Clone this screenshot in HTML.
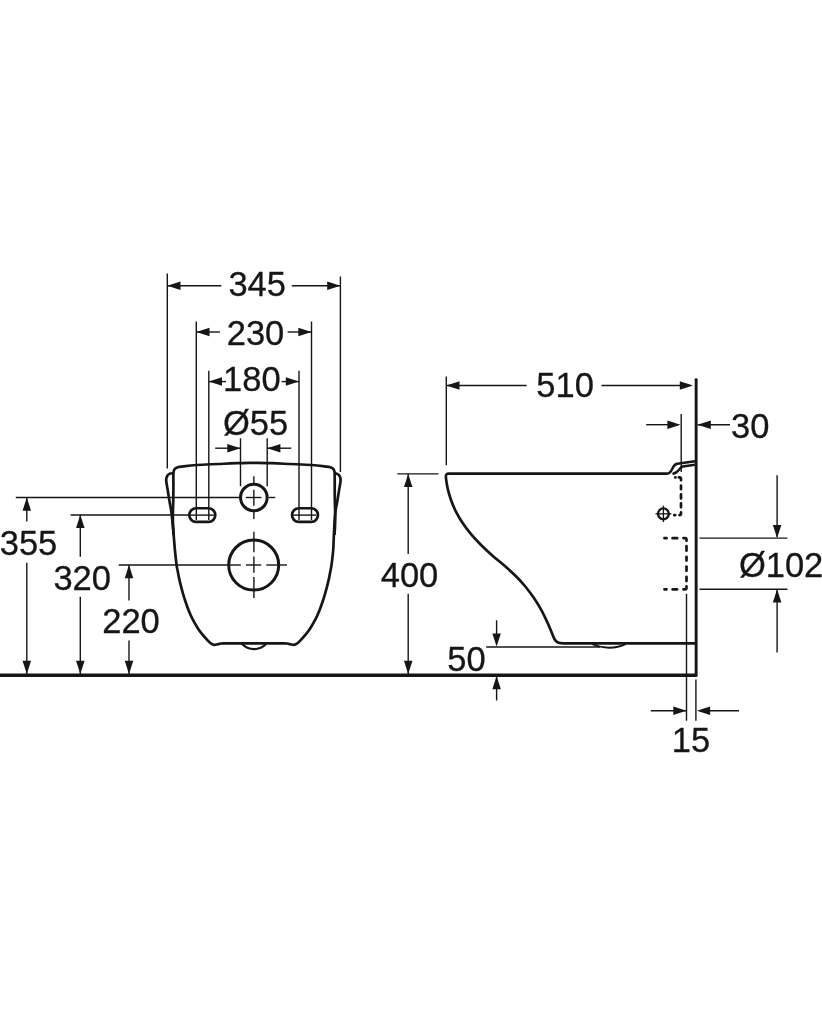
<!DOCTYPE html>
<html lang="en"><head><meta charset="utf-8"><title>Wall-hung toilet dimensions</title>
<style>
html,body{margin:0;padding:0;background:#fff;}
body{width:822px;height:1024px;overflow:hidden;}
svg{display:block;}
svg text{font-family:"Liberation Sans",Arial,Helvetica,sans-serif;}
svg{filter:grayscale(1);}
</style></head><body>
<svg width="822" height="1024" viewBox="0 0 822 1024" fill="none" stroke="#161616" stroke-linecap="butt" stroke-linejoin="round">
<rect x="0" y="0" width="822" height="1024" fill="#fff" stroke="none"/>
<line x1="167.3" y1="273.5" x2="167.3" y2="468.5" stroke-width="1.4"/>
<line x1="340.4" y1="276.5" x2="340.4" y2="472" stroke-width="1.4"/>
<line x1="167.3" y1="285.7" x2="221.3" y2="285.7" stroke-width="1.4"/>
<polygon points="167.30,285.80 180.50,281.55 180.50,290.05" fill="#161616" stroke="none"/>
<line x1="291.8" y1="285.8" x2="340.4" y2="285.8" stroke-width="1.4"/>
<polygon points="340.40,285.80 327.20,281.55 327.20,290.05" fill="#161616" stroke="none"/>
<text transform="translate(228.40,295.90) scale(1.0,1)" font-size="34.5" fill="#161616" stroke="#161616" stroke-width="0.3">345</text>
<line x1="196.3" y1="321.5" x2="196.3" y2="520" stroke-width="1.4"/>
<line x1="311.5" y1="321.5" x2="311.5" y2="520" stroke-width="1.4"/>
<line x1="196.3" y1="332.0" x2="219.9" y2="332.0" stroke-width="1.4"/>
<polygon points="196.30,332.00 209.50,327.75 209.50,336.25" fill="#161616" stroke="none"/>
<line x1="287.6" y1="332.0" x2="311.5" y2="332.0" stroke-width="1.4"/>
<polygon points="311.50,332.00 298.30,327.75 298.30,336.25" fill="#161616" stroke="none"/>
<text transform="translate(226.70,344.90) scale(1.0,1)" font-size="34.5" fill="#161616" stroke="#161616" stroke-width="0.3">230</text>
<line x1="208.8" y1="370.8" x2="208.8" y2="520" stroke-width="1.4"/>
<line x1="299" y1="370.8" x2="299" y2="520" stroke-width="1.4"/>
<line x1="208.8" y1="381.6" x2="226" y2="381.6" stroke-width="1.4"/>
<polygon points="208.80,381.60 222.00,377.35 222.00,385.85" fill="#161616" stroke="none"/>
<line x1="281.6" y1="381.6" x2="299" y2="381.6" stroke-width="1.4"/>
<polygon points="299.00,381.60 285.80,377.35 285.80,385.85" fill="#161616" stroke="none"/>
<text transform="translate(223.10,391.20) scale(1.0,1)" font-size="34.5" fill="#161616" stroke="#161616" stroke-width="0.3">180</text>
<text transform="translate(223.00,435.30) scale(1.0,1)" font-size="34.5" fill="#161616" stroke="#161616" stroke-width="0.3">Ø55</text>
<line x1="240.5" y1="438.3" x2="240.5" y2="486.2" stroke-width="1.4"/>
<line x1="267.2" y1="438.3" x2="267.2" y2="486.2" stroke-width="1.4"/>
<line x1="215.2" y1="448.2" x2="240.5" y2="448.2" stroke-width="1.4"/>
<polygon points="240.50,448.20 227.30,443.95 227.30,452.45" fill="#161616" stroke="none"/>
<line x1="267.2" y1="448.2" x2="291.3" y2="448.2" stroke-width="1.4"/>
<polygon points="267.20,448.20 280.40,443.95 280.40,452.45" fill="#161616" stroke="none"/>
<line x1="0" y1="675.2" x2="696.3" y2="675.2" stroke-width="3.4"/>
<line x1="15.8" y1="497.5" x2="240" y2="497.5" stroke-width="1.4"/>
<line x1="268.8" y1="497.5" x2="275.2" y2="497.5" stroke-width="1.4"/>
<line x1="26.8" y1="497.5" x2="26.8" y2="521.4" stroke-width="1.4"/>
<polygon points="26.80,497.50 22.55,510.70 31.05,510.70" fill="#161616" stroke="none"/>
<line x1="26.8" y1="562.7" x2="26.8" y2="674" stroke-width="1.4"/>
<polygon points="26.80,674.00 22.55,660.80 31.05,660.80" fill="#161616" stroke="none"/>
<text transform="translate(-0.30,555.30) scale(1.0,1)" font-size="34.5" fill="#161616" stroke="#161616" stroke-width="0.3">355</text>
<line x1="70.6" y1="515.0" x2="190" y2="515.0" stroke-width="1.4"/>
<line x1="80.3" y1="514.8" x2="80.3" y2="556.7" stroke-width="1.4"/>
<polygon points="80.30,514.80 76.05,528.00 84.55,528.00" fill="#161616" stroke="none"/>
<line x1="80.3" y1="596.8" x2="80.3" y2="674" stroke-width="1.4"/>
<polygon points="80.30,674.00 76.05,660.80 84.55,660.80" fill="#161616" stroke="none"/>
<text transform="translate(53.40,590.10) scale(1.0,1)" font-size="34.5" fill="#161616" stroke="#161616" stroke-width="0.3">320</text>
<line x1="118.7" y1="565.0" x2="229" y2="565.0" stroke-width="1.4"/>
<line x1="129" y1="565.0" x2="129" y2="600.4" stroke-width="1.4"/>
<polygon points="129.00,565.00 124.75,578.20 133.25,578.20" fill="#161616" stroke="none"/>
<line x1="129" y1="640.6" x2="129" y2="674" stroke-width="1.4"/>
<polygon points="129.00,674.00 124.75,660.80 133.25,660.80" fill="#161616" stroke="none"/>
<text transform="translate(102.20,633.10) scale(1.0,1)" font-size="34.5" fill="#161616" stroke="#161616" stroke-width="0.3">220</text>
<path stroke-width="2.7" d="M173.60,473.20 C173.03,473.27 171.20,473.25 170.20,473.60 C169.20,473.95 168.23,474.53 167.60,475.30 C166.97,476.07 166.62,477.17 166.40,478.20 C166.18,479.23 166.08,479.52 166.30,481.50 C166.52,483.48 167.15,486.72 167.70,490.10 C168.25,493.48 168.95,497.90 169.60,501.80 C170.25,505.70 170.95,508.30 171.60,513.50 C172.25,518.70 172.95,526.92 173.50,533.00 C174.05,539.08 174.38,544.67 174.90,550.00 C175.42,555.33 176.17,561.67 176.60,565.00 C177.03,568.33 177.10,567.85 177.50,570.00 C177.90,572.15 178.43,575.27 179.00,577.90 C179.57,580.53 180.20,583.07 180.90,585.80 C181.60,588.53 182.38,591.52 183.20,594.30 C184.02,597.08 184.90,599.83 185.80,602.50 C186.70,605.17 187.52,607.60 188.60,610.30 C189.68,613.00 190.72,615.63 192.30,618.70 C193.88,621.77 196.28,625.92 198.10,628.70 C199.92,631.48 201.53,633.37 203.20,635.40 C204.87,637.43 206.77,639.53 208.10,640.90 C209.43,642.27 210.18,642.93 211.20,643.60 C212.22,644.27 213.10,644.80 214.20,644.90 C215.30,645.00 216.68,644.43 217.80,644.20 C218.92,643.97 219.87,643.63 220.90,643.50 C221.93,643.37 223.48,643.42 224.00,643.40 " />
<path stroke-width="2.7" d="M334.70,473.20 C335.02,473.27 335.85,473.25 336.60,473.60 C337.35,473.95 338.57,474.53 339.20,475.30 C339.83,476.07 340.18,477.17 340.40,478.20 C340.62,479.23 340.72,479.52 340.50,481.50 C340.28,483.48 339.65,486.72 339.10,490.10 C338.55,493.48 337.85,497.90 337.20,501.80 C336.55,505.70 335.74,508.30 335.20,513.50 C334.66,518.70 334.30,526.92 333.97,533.00 C333.64,539.08 333.61,544.67 333.20,550.00 C332.79,555.33 331.93,561.67 331.50,565.00 C331.07,568.33 331.00,567.85 330.60,570.00 C330.20,572.15 329.67,575.27 329.10,577.90 C328.53,580.53 327.90,583.07 327.20,585.80 C326.50,588.53 325.72,591.52 324.90,594.30 C324.08,597.08 323.20,599.83 322.30,602.50 C321.40,605.17 320.58,607.60 319.50,610.30 C318.42,613.00 317.38,615.63 315.80,618.70 C314.22,621.77 311.82,625.92 310.00,628.70 C308.18,631.48 306.57,633.37 304.90,635.40 C303.23,637.43 301.33,639.53 300.00,640.90 C298.67,642.27 297.92,642.93 296.90,643.60 C295.88,644.27 295.00,644.80 293.90,644.90 C292.80,645.00 291.42,644.43 290.30,644.20 C289.18,643.97 288.23,643.63 287.20,643.50 C286.17,643.37 284.62,643.42 284.10,643.40 " />
<line x1="223.5" y1="643.4" x2="284.6" y2="643.4" stroke-width="2.7"/>
<path stroke-width="2.7" d="M173.60,535.00 C173.50,533.17 173.12,527.50 173.00,524.00 C172.88,520.50 172.87,517.50 172.90,514.00 C172.93,510.50 173.12,507.00 173.20,503.00 C173.28,499.00 173.37,494.75 173.40,490.00 C173.43,485.25 173.32,477.73 173.40,474.50 C173.48,471.27 173.53,471.63 173.90,470.60 C174.27,469.57 174.92,468.87 175.60,468.30 C176.28,467.73 177.02,467.48 178.00,467.20 C178.98,466.92 178.42,466.97 181.50,466.60 C184.58,466.23 190.42,465.43 196.50,465.00 C202.58,464.57 211.42,464.30 218.00,464.00 C224.58,463.70 229.99,463.40 236.00,463.20 C242.01,463.00 251.04,462.87 254.05,462.80 " />
<path stroke-width="2.7" d="M334.50,535.00 C334.60,533.17 334.98,527.50 335.10,524.00 C335.22,520.50 335.23,517.50 335.20,514.00 C335.17,510.50 334.98,507.00 334.90,503.00 C334.82,499.00 334.73,494.75 334.70,490.00 C334.67,485.25 334.78,477.73 334.70,474.50 C334.62,471.27 334.57,471.63 334.20,470.60 C333.83,469.57 333.18,468.87 332.50,468.30 C331.82,467.73 331.08,467.48 330.10,467.20 C329.12,466.92 329.68,466.97 326.60,466.60 C323.52,466.23 317.68,465.43 311.60,465.00 C305.52,464.57 296.68,464.30 290.10,464.00 C283.52,463.70 278.11,463.40 272.10,463.20 C266.09,463.00 257.06,462.87 254.05,462.80 " />
<path stroke-width="2.2" d="M241.5,643.6 C245,647.2 249,649.2 254.05,649.2 C259.1,649.2 263.1,647.2 266.6,643.6" />
<circle cx="253.85" cy="497.5" r="13.3" stroke-width="3.0"/>
<line x1="253.85" y1="476.2" x2="253.85" y2="483.5" stroke-width="1.4"/>
<line x1="253.85" y1="511.5" x2="253.85" y2="518.9" stroke-width="1.4"/>
<line x1="245.8" y1="497.5" x2="261.5" y2="497.5" stroke-width="1.4"/>
<line x1="253.85" y1="489.7" x2="253.85" y2="505.8" stroke-width="1.4"/>
<circle cx="253.7" cy="565.1" r="25.0" stroke-width="3.0"/>
<line x1="253.89999999999998" y1="531.8" x2="253.89999999999998" y2="552.3" stroke-width="1.4"/>
<line x1="253.89999999999998" y1="556.6" x2="253.89999999999998" y2="572.7" stroke-width="1.4"/>
<line x1="253.89999999999998" y1="577.1" x2="253.89999999999998" y2="598" stroke-width="1.4"/>
<line x1="229" y1="565.0" x2="240.8" y2="565.0" stroke-width="1.4"/>
<line x1="245.9" y1="565.0" x2="261.2" y2="565.0" stroke-width="1.4"/>
<line x1="266.3" y1="565.0" x2="287" y2="565.0" stroke-width="1.4"/>
<rect x="189.3" y="508.25" width="26" height="13.7" rx="6.85" ry="6.85" stroke-width="2.7"/>
<line x1="190.3" y1="515.1" x2="213.8" y2="515.1" stroke-width="1.4"/>
<rect x="292.0" y="508.25" width="26" height="13.7" rx="6.85" ry="6.85" stroke-width="2.7"/>
<line x1="293.0" y1="515.1" x2="316.5" y2="515.1" stroke-width="1.4"/>
<line x1="696.15" y1="379.6" x2="696.15" y2="676.8" stroke-width="2.9"/>
<circle cx="696.15" cy="379.6" r="1.45" fill="#161616" stroke="none"/>
<line x1="446.3" y1="376.6" x2="446.3" y2="465.3" stroke-width="1.4"/>
<line x1="446.3" y1="385.5" x2="526.6" y2="385.5" stroke-width="1.4"/>
<polygon points="446.30,385.50 459.50,381.25 459.50,389.75" fill="#161616" stroke="none"/>
<line x1="601.5" y1="385.5" x2="690" y2="385.5" stroke-width="1.4"/>
<polygon points="693.00,385.50 679.80,381.25 679.80,389.75" fill="#161616" stroke="none"/>
<text transform="translate(536.30,397.40) scale(1.0,1)" font-size="34.5" fill="#161616" stroke="#161616" stroke-width="0.3">510</text>
<line x1="681.2" y1="413.9" x2="681.2" y2="472" stroke-width="1.4"/>
<line x1="646.2" y1="424.7" x2="678" y2="424.7" stroke-width="1.4"/>
<polygon points="680.60,424.70 667.40,420.45 667.40,428.95" fill="#161616" stroke="none"/>
<line x1="697.6" y1="424.7" x2="730" y2="424.7" stroke-width="1.4"/>
<polygon points="697.60,424.70 710.80,420.45 710.80,428.95" fill="#161616" stroke="none"/>
<text transform="translate(731.10,437.90) scale(1.0,1)" font-size="34.5" fill="#161616" stroke="#161616" stroke-width="0.3">30</text>
<line x1="397.4" y1="473.9" x2="438.5" y2="473.9" stroke-width="1.4"/>
<line x1="408.2" y1="473.9" x2="408.2" y2="554" stroke-width="1.4"/>
<polygon points="408.20,473.90 403.95,487.10 412.45,487.10" fill="#161616" stroke="none"/>
<line x1="408.2" y1="593.7" x2="408.2" y2="674" stroke-width="1.4"/>
<polygon points="408.20,674.00 403.95,660.80 412.45,660.80" fill="#161616" stroke="none"/>
<text transform="translate(380.70,586.70) scale(1.0,1)" font-size="34.5" fill="#161616" stroke="#161616" stroke-width="0.3">400</text>
<line x1="486.2" y1="647.0" x2="600" y2="647.0" stroke-width="1.4"/>
<line x1="496.6" y1="620.3" x2="496.6" y2="640" stroke-width="1.4"/>
<polygon points="496.60,646.60 492.35,633.40 500.85,633.40" fill="#161616" stroke="none"/>
<line x1="496.6" y1="676" x2="496.6" y2="700.5" stroke-width="1.4"/>
<polygon points="496.60,676.00 492.35,689.20 500.85,689.20" fill="#161616" stroke="none"/>
<text transform="translate(447.30,671.30) scale(1.0,1)" font-size="34.5" fill="#161616" stroke="#161616" stroke-width="0.3">50</text>
<line x1="686.5" y1="593.8" x2="686.5" y2="720.7" stroke-width="1.4"/>
<line x1="695.9" y1="679.6" x2="695.9" y2="720.7" stroke-width="1.4"/>
<line x1="650.8" y1="710.8" x2="686.5" y2="710.8" stroke-width="1.4"/>
<polygon points="686.50,710.80 673.30,706.55 673.30,715.05" fill="#161616" stroke="none"/>
<line x1="700" y1="710.8" x2="739" y2="710.8" stroke-width="1.4"/>
<polygon points="696.90,710.80 710.10,706.55 710.10,715.05" fill="#161616" stroke="none"/>
<text transform="translate(671.80,751.80) scale(1.0,1)" font-size="34.5" fill="#161616" stroke="#161616" stroke-width="0.3">15</text>
<line x1="699.5" y1="538.1" x2="787.4" y2="538.1" stroke-width="1.4"/>
<line x1="699.5" y1="589.2" x2="787.4" y2="589.2" stroke-width="1.4"/>
<line x1="777.1" y1="475.2" x2="777.1" y2="537" stroke-width="1.4"/>
<polygon points="777.10,538.10 772.85,524.90 781.35,524.90" fill="#161616" stroke="none"/>
<line x1="777.1" y1="590" x2="777.1" y2="652.4" stroke-width="1.4"/>
<polygon points="777.10,589.20 772.85,602.40 781.35,602.40" fill="#161616" stroke="none"/>
<text transform="translate(738.90,576.70) scale(1.0,1)" font-size="34.5" fill="#161616" stroke="#161616" stroke-width="0.3">Ø102</text>
<path stroke-width="2.7" d="M667.2,473.7 L448.6,473.7 Q445.8,473.7 445.9,476.4 L445.90,476.40 C445.95,477.00 445.88,477.88 446.20,480.00 C446.52,482.12 446.98,485.73 447.80,489.10 C448.62,492.47 449.77,496.48 451.10,500.20 C452.43,503.92 453.93,507.68 455.80,511.40 C457.67,515.12 459.83,518.80 462.30,522.50 C464.77,526.20 467.52,529.90 470.60,533.60 C473.68,537.30 477.10,540.98 480.80,544.70 C484.50,548.42 488.78,552.33 492.80,555.90 C496.82,559.47 501.03,562.70 504.90,566.10 C508.77,569.50 512.60,572.90 516.00,576.30 C519.40,579.70 522.37,582.95 525.30,586.50 C528.23,590.05 530.97,593.75 533.60,597.60 C536.23,601.45 538.78,605.43 541.10,609.60 C543.42,613.77 545.65,618.58 547.50,622.60 C549.35,626.62 551.02,630.92 552.20,633.70 C553.38,636.48 553.75,637.88 554.60,639.30 C555.45,640.72 556.32,641.55 557.30,642.20 C558.28,642.85 559.05,643.02 560.50,643.20 C561.95,643.38 565.08,643.28 566.00,643.30 " />
<line x1="565.5" y1="643.3" x2="695.5" y2="643.3" stroke-width="2.7"/>
<path stroke-width="2.5" d="M667,473.7 C670,473.7 671.3,471 672.4,468.5 C673.6,465.6 674.6,464.2 677.2,463.7 L695,461.3" />
<path stroke-width="2.5" d="M672.5,474 C675.5,473.3 677.5,471.8 679.1,469.7 C680.3,468 681,466.9 682.7,466.5 L695,464.7" />
<path stroke-width="1.9" d="M592,644 C598,646.6 603,647.7 609,647.7 C615.5,647.7 621,646.3 626,643.8" />
<path stroke-width="2.7" stroke-linecap="round" stroke-linejoin="round" d="M664.45,538.2 L666.55,538.2 M672.55,538.2 L677.15,538.2 M683.45,538.2 L685.0,538.2 Q686.5,538.2 686.5,539.7 L686.5,540.85 M686.5,546.15 L686.5,550.75 M686.5,556.75 L686.5,560.55 M686.5,566.55 L686.5,570.85 M686.5,576.75 L686.5,581.05 M686.5,586.25 L686.5,587.8 Q686.5,589.3 685.0,589.3 L683.45,589.3 M672.55,589.3 L677.15,589.3 M664.45,589.3 L666.55,589.3"/>
<path stroke-width="2.7" stroke-linecap="round" stroke-linejoin="round" d="M675.25,477.4 L675.45,477.4 M678.85,477.4 L679.5,477.4 Q681.0,477.4 681.0,478.9 L681.0,480.15 M681.0,485.55 L681.0,489.25 M681.0,494.35 L681.0,498.45 M681.0,503.35 L681.0,507.25 M681.0,512.45 L681.0,513.6 Q681.0,515.1 679.5,515.1 L679.65,515.1 M674.25,515.1 L675.25,515.1"/>
<circle cx="663.4" cy="513.8" r="5.4" stroke-width="2.4"/>
<line x1="655.5" y1="513.8" x2="671.4" y2="513.8" stroke-width="1.3"/>
<line x1="663.4" y1="505.7" x2="663.4" y2="522.1" stroke-width="1.3"/>
</svg>
</body></html>
